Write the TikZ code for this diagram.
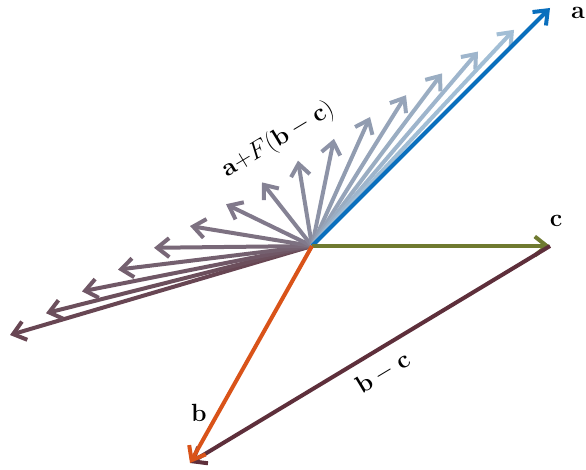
\documentclass[tikz,border=0pt]{standalone}
\usetikzlibrary{arrows.meta}
\definecolor{acol}{HTML}{0A6FBD}
\definecolor{bcol}{HTML}{D95319}
\definecolor{ccol}{HTML}{6F7A30}
\definecolor{bccol}{HTML}{5E2F3B}
\definecolor{fanstart}{HTML}{A2BED5}
\definecolor{fanend}{HTML}{684653}
\tikzset{
  vec/.style={line width=4pt,-{Straight Barb[length=12pt,width=19pt]}},
  lbl/.style={font=\fontsize{25}{30}\selectfont, inner sep=1pt}
}
\begin{document}
\begin{tikzpicture}[x=1pt,y=-1pt]
\useasboundingbox (0,0) rectangle (586,470);
\coordinate (O) at (312,246);
\coordinate (A) at (550,8);
\coordinate (B) at (190,463);
\coordinate (C) at (550,246);
\foreach \i in {15,14,...,1}{
  \pgfmathsetmacro\pct{(\i-1)/14*100}
  \coordinate (F\i) at ({550-36*\i},{8+21.8*\i});
  \draw[vec, color=fanend!\pct!fanstart] (O) -- (F\i);
}
\draw[vec, color=acol] (O) -- (A);
\draw[vec, color=ccol] (O) -- (C);
\draw[vec, color=bccol] (C) -- (B);
\draw[vec, color=bcol] (O) -- (B);
\node[lbl] (la) at (578,13) {$\mathbf{a}$};
\node[lbl] (lc) at (556,221) {$\mathbf{c}$};
\node[lbl] (lb) at (199,413) {$\mathbf{b}$};
\node[lbl, rotate=31] (lbc) at (383,373) {$\mathbf{b}-\mathbf{c}$};
\node[lbl, rotate=31] (lf) at (278,140) {$\mathbf{a}{+}F(\mathbf{b}-\mathbf{c})$};
\end{tikzpicture}
\end{document}
